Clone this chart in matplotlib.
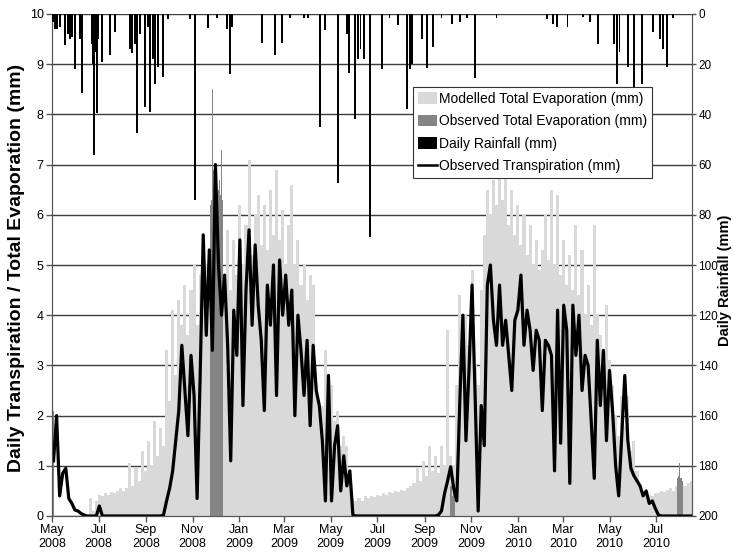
import numpy as np
import pandas as pd
import matplotlib
matplotlib.use("Agg")
import matplotlib.pyplot as plt
import matplotlib.dates as mdates
from matplotlib.patches import Patch
from matplotlib.lines import Line2D

plt.rcParams["font.family"] = ["Liberation Sans", "DejaVu Sans"]

# 4-day series starting 1 May 2008
series_start = "2008-05-01"
step_days = 4
modelled_e = [
    0, 0, 0, 0, 0, 0, 0, 0, 0, 0,
    0, 0, 0.35, 0.1, 0.3, 0.42, 0.4, 0.45, 0.42, 0.48,
    0.45, 0.5, 0.55, 0.5, 0.55, 1.05, 0.6, 0.95, 0.7, 1.3,
    0.9, 1.5, 1.0, 1.9, 1.2, 1.75, 1.4, 3.3, 2.3, 4.1,
    2.8, 4.3, 3.8, 4.6, 3.6, 4.5, 5.0, 3.8, 4.8, 4.5,
    5.0, 4.4, 5.0, 5.0, 5.0, 5.0, 4.6, 5.7, 4.5, 5.5,
    4.8, 6.2, 5.0, 5.8, 7.1, 5.2, 6.0, 6.4, 5.4, 6.2,
    5.3, 6.5, 5.6, 6.9, 5.5, 6.1, 5.0, 5.8, 6.6, 5.0,
    5.5, 4.6, 5.0, 4.3, 4.8, 4.6, 2.6, 2.0, 2.2, 3.3,
    1.8, 2.6, 1.9, 2.1, 1.4, 1.6, 1.4, 0.9, 0.35, 0.3,
    0.35, 0.3, 0.4, 0.35, 0.4, 0.38, 0.42, 0.4, 0.45, 0.42,
    0.48, 0.45, 0.5, 0.48, 0.52, 0.5, 0.55, 0.6, 0.65, 0.95,
    0.7, 1.1, 0.8, 1.4, 0.9, 1.2, 0.85, 1.4, 1.0, 3.7,
    1.2, 1.0, 2.6, 4.4, 3.4, 4.0, 3.4, 4.9, 3.0, 2.6,
    4.5, 5.6, 6.5, 6.0, 6.7, 6.2, 7.0, 6.3, 6.8, 5.8,
    6.5, 5.6, 6.2, 5.4, 6.0, 5.2, 5.8, 5.0, 5.5, 4.9,
    5.3, 6.0, 5.1, 6.5, 5.0, 6.4, 4.8, 5.5, 4.6, 5.2,
    4.5, 5.8, 4.4, 5.3, 4.0, 4.6, 3.8, 5.8, 4.0, 3.6,
    3.0, 4.2, 3.1, 2.6, 2.0, 1.6, 2.4, 1.8, 2.4, 1.3,
    1.5, 0.9, 0.6, 0.45, 0.4, 0.42, 0.4, 0.45, 0.45, 0.5,
    0.48, 0.52, 0.55, 0.5, 0.6, 0.55, 0.6, 0.6, 0.65, 0.7,
]
transpiration = [
    1.1, 2.0, 0.4, 0.85, 0.95, 0.35, 0.25, 0.12, 0.1, 0.05,
    0.02, 0, 0, 0, 0, 0.2, 0, 0, 0, 0,
    0, 0, 0, 0, 0, 0, 0, 0, 0, 0,
    0, 0, 0, 0, 0, 0, 0.02, 0.3, 0.55, 0.9,
    1.5, 2.1, 3.4, 2.5, 1.6, 3.2, 2.4, 0.35, 2.8, 5.6,
    3.6, 5.3, 3.3, 7.0, 5.0, 4.0, 4.8, 3.4, 1.1, 4.1,
    3.2, 5.5, 2.2, 4.5, 5.7, 3.8, 5.4, 4.2, 3.5, 2.1,
    4.6, 3.8, 5.0, 2.4, 5.1, 4.0, 4.8, 3.8, 4.5, 2.0,
    4.0, 3.3, 2.4, 3.5, 1.8, 3.4, 2.5, 2.2, 1.5, 0.3,
    2.8, 0.3, 1.4, 1.8, 0.5, 1.2, 0.6, 0.9, 0.02, 0,
    0, 0, 0, 0, 0, 0, 0, 0, 0, 0,
    0, 0, 0, 0, 0, 0, 0, 0, 0, 0,
    0, 0, 0, 0, 0, 0, 0.02, 0.1, 0.45, 0.7,
    0.98, 0.55, 0.3, 2.3, 4.0, 1.5, 2.9, 4.6, 2.4, 0.1,
    2.2, 1.4, 4.6, 5.0, 3.9, 3.4, 4.6, 3.4, 3.9, 3.2,
    2.5, 3.9, 4.1, 4.8, 3.4, 4.1, 3.7, 2.9, 3.7, 3.5,
    2.1, 3.5, 3.4, 3.2, 0.9, 4.1, 1.45, 4.2, 3.7, 0.65,
    4.2, 3.2, 4.0, 2.5, 3.2, 3.0, 1.9, 0.75, 3.5, 2.2,
    3.3, 1.5, 2.9, 2.1, 1.0, 0.4, 1.6, 2.8, 1.5, 0.95,
    0.8, 0.7, 0.6, 0.4, 0.5, 0.25, 0.3, 0.15, 0.02, 0,
    0, 0, 0, 0, 0, 0, 0, 0, 0, 0,
]

# observed total evaporation, daily runs
obs_start = ["2008-05-01", "2008-11-24", "2009-10-04", "2010-07-28"]
obs_values = [
    [2.7, 2.1],
    [6.2, 6.3, 6.6, 8.5, 6.9, 6.7, 6.5, 6.6, 6.5, 6.4, 6.3, 6.5, 6.7, 6.4, 7.3, 6.6, 6.3],
    [0.6, 0.9, 0.6, 0.4, 0.5, 0.6, 0.6],
    [0.7, 0.75, 0.8, 1.05, 0.75, 0.7, 0.75, 0.7],
]

rain_dates = [
    "2008-05-02", "2008-05-05", "2008-05-08", "2008-05-11", "2008-05-18",
    "2008-05-22", "2008-05-25", "2008-05-27", "2008-05-31", "2008-06-07",
    "2008-06-09", "2008-06-22", "2008-06-24", "2008-06-25", "2008-06-28",
    "2008-06-29", "2008-06-30", "2008-07-05", "2008-07-16", "2008-07-22",
    "2008-08-11", "2008-08-14", "2008-08-18", "2008-08-20", "2008-08-24",
    "2008-08-31", "2008-09-04", "2008-09-06", "2008-09-10", "2008-09-13",
    "2008-09-17", "2008-09-23", "2008-09-30", "2008-10-29", "2008-11-04",
    "2008-11-21", "2008-12-03", "2008-12-16", "2008-12-20", "2008-12-23",
    "2009-01-31", "2009-02-17", "2009-02-26", "2009-03-09", "2009-03-27",
    "2009-04-01", "2009-04-17", "2009-04-23", "2009-05-10", "2009-05-22",
    "2009-05-25", "2009-06-02", "2009-06-06", "2009-06-09", "2009-06-13",
    "2009-06-21", "2009-07-07", "2009-07-17", "2009-07-28", "2009-08-09",
    "2009-08-13", "2009-08-15", "2009-08-28", "2009-09-04", "2009-09-12",
    "2009-09-23", "2009-10-07", "2009-10-17", "2009-10-26", "2009-11-06",
    "2009-12-04", "2010-02-08", "2010-02-16", "2010-02-21", "2010-03-07",
    "2010-03-27", "2010-04-05", "2010-04-16", "2010-05-07", "2010-05-11",
    "2010-05-14", "2010-05-25", "2010-06-02", "2010-06-12", "2010-06-27",
    "2010-07-06", "2010-07-10", "2010-07-15", "2010-07-23",
]
rain_mm = [
    3, 6, 6, 5, 12.4,
    8, 10, 9, 22, 10,
    31.5, 12, 20, 56, 15,
    39.6, 10, 19, 16.5, 7,
    14, 15.7, 12, 47.5, 8,
    37, 5, 39, 18, 28,
    21, 25, 2, 2, 74,
    5.7, 1.5, 6, 24, 5,
    11.7, 16.3, 11.7, 1.5, 1.5,
    1.5, 45, 6.4, 67.5, 8,
    23.6, 42, 18, 14, 18,
    89, 22, 1.5, 4.5, 38,
    22, 20, 10, 21.6, 13,
    1.5, 4, 3, 1.5, 25.6,
    1.5, 2, 4, 5, 5,
    1, 3, 11.8, 12, 28,
    15, 21, 29, 28, 7,
    10, 14, 21, 1.5,
]

tick_months = pd.date_range("2008-05-01", "2010-07-01", freq="2MS")
x_min, x_max = "2008-05-01", "2010-08-17"

# ---- figure
fig = plt.figure(figsize=(7.33, 5.6), dpi=100)
ax = fig.add_axes([52 / 733, 1 - 516 / 560, 640 / 733, 502 / 560])
ax2 = ax.twinx()

series_x = mdates.date2num(pd.date_range(series_start, periods=len(modelled_e), freq=f"{step_days}D"))
ax.bar(series_x, modelled_e, width=step_days, align="edge", color="#d9d9d9", linewidth=0, zorder=2)

for s, vals in zip(obs_start, obs_values):
    ox = mdates.date2num(pd.date_range(s, periods=len(vals), freq="D"))
    ax.bar(ox, vals, width=1.0, align="edge", color="#858585", linewidth=0, zorder=3)

ax.plot(series_x + step_days / 2, transpiration, color="black", lw=2.3, zorder=4)

ax2.bar(mdates.date2num(pd.to_datetime(rain_dates)), rain_mm, width=2.4, color="black", linewidth=0, zorder=3)

ax.set_xlim(mdates.date2num(pd.Timestamp(x_min)), mdates.date2num(pd.Timestamp(x_max)))
ax.set_ylim(0, 10)
ax.set_yticks(range(0, 11))
ax2.set_ylim(200, 0)
ax2.set_yticks(range(0, 201, 20))

ax.set_xticks(mdates.date2num(tick_months))
ax.set_xticklabels([d.strftime("%b\n%Y") for d in tick_months])

ax.set_axisbelow(True)
ax.yaxis.grid(True, color="#3c3c3c", lw=1.0)
for a in (ax, ax2):
    for sp in a.spines.values():
        sp.set_color("#555555")
    a.tick_params(direction="out", length=4, width=1, color="#555555", labelsize=9, pad=2)
ax2.tick_params(length=3, labelsize=8.5, pad=1.5)
ax.spines["top"].set_visible(False)
ax2.spines["top"].set_visible(False)

fig.text(17 / 733, 1 - 268 / 560, "Daily Transpiration / Total Evaporation (mm)", rotation=90,
         ha="center", va="center", fontsize=14, fontweight="bold")
fig.text(725.3 / 733, 1 - 280 / 560, "Daily Rainfall (mm)", rotation=90,
         ha="center", va="center", fontsize=10.5, fontweight="bold")

handles = [
    Patch(facecolor="#d9d9d9", edgecolor="none"),
    Patch(facecolor="#858585", edgecolor="none"),
    Patch(facecolor="black", edgecolor="none"),
    Line2D([0], [0], color="black", lw=1.8),
]
labels = [
    "Modelled Total Evaporation (mm)",
    "Observed Total Evaporation (mm)",
    "Daily Rainfall (mm)",
    "Observed Transpiration (mm)",
]
leg = ax2.legend(handles, labels, loc="upper left", bbox_to_anchor=(0.564, 0.855), fontsize=10,
                 frameon=True, fancybox=False, framealpha=1, edgecolor="#333333",
                 handlelength=1.4, handleheight=0.9, handletextpad=0.1, labelspacing=0.62,
                 borderpad=0.35, borderaxespad=0)
leg.get_frame().set_linewidth(0.8)
leg.set_zorder(10)

fig.savefig("out.png", dpi=100)
